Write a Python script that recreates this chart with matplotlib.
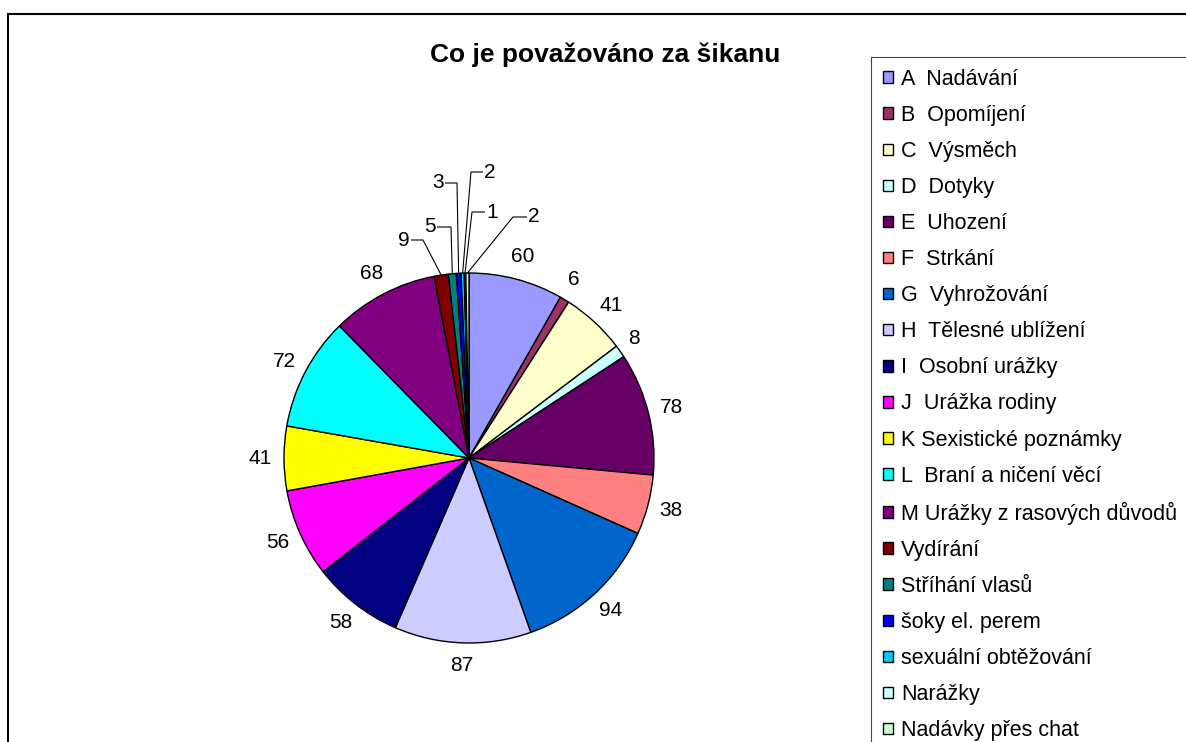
import matplotlib
matplotlib.use("Agg")
import matplotlib.pyplot as plt
import numpy as np
from matplotlib.patches import Rectangle

plt.rcParams['font.family'] = ['Liberation Sans', 'DejaVu Sans']

# ---------------- data ----------------
title = "Co je považováno za šikanu"
categories = [
    "A  Nadávání", "B  Opomíjení", "C  Výsměch", "D  Dotyky", "E  Uhození",
    "F  Strkání", "G  Vyhrožování", "H  Tělesné ublížení", "I  Osobní urážky",
    "J  Urážka rodiny", "K Sexistické poznámky", "L  Braní a ničení věcí",
    "M Urážky z rasových důvodů", "Vydírání", "Stříhání vlasů",
    "šoky el. perem", "sexuální obtěžování", "Narážky", "Nadávky přes chat",
]
values = [60, 6, 41, 8, 78, 38, 94, 87, 58, 56, 41, 72, 68, 9, 5, 3, 2, 1, 2]
colors = [
    "#9999FF", "#993366", "#FFFFCC", "#CCFFFF", "#660066",
    "#FF8080", "#0066CC", "#CCCCFF", "#000080", "#FF00FF",
    "#FFFF00", "#00FFFF", "#800080", "#800000", "#008080",
    "#0000FF", "#00CCFF", "#CCFFFF", "#CCFFCC",
]

# ---------------- layout (pixels) ----------------
W, H = 1186, 742
CX, CY_TOP = 469, 458          # pie centre in image pixels (y down)
R = 185
N_LEADER = 6                   # last slices labelled with leader lines
# elbow x, elbow y (y down), text anchor x, side
leader_layout = [
    (423, 240, 411, 'right'),
    (451, 227, 437, 'right'),
    (457, 183, 445, 'right'),
    (471, 172, 483, 'left'),
    (472, 212, 485, 'left'),
    (513, 217, 527, 'left'),
]

fig = plt.figure(figsize=(W / 100, H / 100), dpi=100)
ax = fig.add_axes([0, 0, 1, 1])

cy = H - CY_TOP
wedges, _ = ax.pie(values, colors=colors, startangle=90, counterclock=False,
                   center=(CX, cy), radius=R, frame=True,
                   wedgeprops=dict(edgecolor='black', linewidth=1.0))
ax.set_xlim(0, W)
ax.set_ylim(0, H)
ax.set_aspect('equal')
ax.axis('off')

label_fs = 15
n_main = len(values) - N_LEADER
for i, w in enumerate(wedges):
    ang = np.deg2rad((w.theta1 + w.theta2) / 2)
    ux, uy = np.cos(ang), np.sin(ang)
    s = str(values[i])
    if i < n_main:
        hw = 7 * len(s)
        hh = 13
        g = 10
        x = CX + (R + g) * ux + hw * ux
        y = cy + (R + g) * uy + hh * uy
        ax.text(x, y, s, ha='center', va='center', fontsize=label_fs, color='black')
    else:
        ex, ey_top, tx, side = leader_layout[i - n_main]
        ey = H - ey_top
        px, py = CX + R * ux, cy + R * uy
        ax.plot([px, ex, tx], [py, ey, ey], color='black', lw=0.8,
                solid_capstyle='butt')
        if side == 'right':
            ax.text(tx - 1, ey, s, ha='right', va='center', fontsize=label_fs)
        else:
            ax.text(tx + 1, ey, s, ha='left', va='center', fontsize=label_fs)

# outer chart frame (cut off at right and bottom)
ax.add_patch(Rectangle((8, -60), W + 100, (H - 14) + 60, fill=False,
                       edgecolor='black', linewidth=1.5, clip_on=False))

# title
fig.text(605 / W, 1 - 55 / H, title, ha='center', va='center',
         fontsize=19, fontweight='bold')

# legend (frame runs past right and bottom edges, as in the reference)
leg = fig.legend(wedges, categories, loc='upper left', mode='expand',
                 bbox_to_anchor=(871 / W, 1 - 57 / H, 400 / W, 0.0),
                 bbox_transform=fig.transFigure, fontsize=15.5,
                 frameon=True, fancybox=False, framealpha=1,
                 edgecolor='#444444', borderaxespad=0, borderpad=0.55,
                 handlelength=0.45, handleheight=0.45, handletextpad=0.4,
                 labelspacing=0.7)
leg.get_frame().set_linewidth(0.8)

fig.savefig("out.png", dpi=100)
